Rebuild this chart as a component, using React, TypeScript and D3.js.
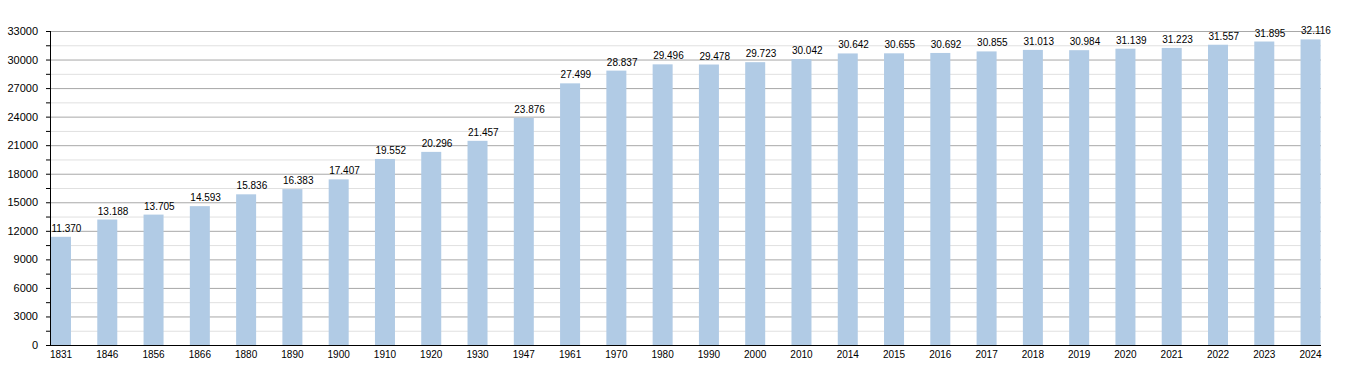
import React from "react";
import * as d3 from "d3";

const years = ["1831","1846","1856","1866","1880","1890","1900","1910","1920","1930","1947","1961","1970","1980","1990","2000","2010","2014","2015","2016","2017","2018","2019","2020","2021","2022","2023","2024"];
const population = [11370,13188,13705,14593,15836,16383,17407,19552,20296,21457,23876,27499,28837,29496,29478,29723,30042,30642,30655,30692,30855,31013,30984,31139,31223,31557,31895,32116];
const yMajorTicks = [0,3000,6000,9000,12000,15000,18000,21000,24000,27000,30000,33000];
const yMinorTicks = [1500,4500,7500,10500,13500,16500,19500,22500,25500,28500,31500];

const W = 1350, H = 375;
const left = 50, right = 1321, top = 31, bottom = 345;
const step = 46.28;
const barW = 20;

const fmt = (v: number) => {
  const s = String(v);
  return s.length > 3 ? s.slice(0, s.length - 3) + "." + s.slice(-3) : s;
};

export default function App() {
  const y = d3.scaleLinear().domain([0, 33000]).range([bottom, top]);
  const x = d3.scaleBand<string>().domain(years).range([51, 51 + step * years.length]).paddingInner(0).paddingOuter(0);
  const font = "'Liberation Sans', Arial, sans-serif";
  return (
    <svg width={W} height={H} style={{ position: "absolute", left: 0, top: 0, background: "#fff" }} fontFamily={font}>
      {yMinorTicks.map((t) => (
        <g key={"m" + t}>
          <line x1={left} x2={right} y1={y(t) + 0.5} y2={y(t) + 0.5} stroke="#e0e0e0" strokeWidth={1} />
          <line x1={left - 4} x2={left} y1={y(t) + 0.5} y2={y(t) + 0.5} stroke="#000" strokeWidth={1} />
        </g>
      ))}
      {yMajorTicks.map((t) => (
        <g key={"M" + t}>
          {t > 0 && <line x1={left} x2={right} y1={y(t) + 0.5} y2={y(t) + 0.5} stroke="#a8a8a8" strokeWidth={1} />}
          <line x1={left - 4} x2={left} y1={y(t) + 0.5} y2={y(t) + 0.5} stroke="#000" strokeWidth={1} />
          <text x={38} y={y(t) + 4} textAnchor="end" fontSize={11} fill="#000">{t}</text>
        </g>
      ))}
      {population.map((v, i) => {
        const xs = x(years[i])!;
        return (
          <g key={years[i]}>
            <rect x={xs} y={y(v)} width={barW} height={bottom - y(v)} fill="#b1cbe5" />
            <text x={xs + 0.5} y={y(v) - 5} textAnchor="start" fontSize={10} fill="#000">{fmt(v)}</text>
            <text x={xs + barW / 2} y={358} textAnchor="middle" fontSize={10} fill="#000">{years[i]}</text>
          </g>
        );
      })}
      <line x1={left + 0.5} x2={left + 0.5} y1={top} y2={bottom + 1} stroke="#000" strokeWidth={1} />
      <line x1={left} x2={right} y1={bottom + 0.5} y2={bottom + 0.5} stroke="#000" strokeWidth={1} />
    </svg>
  );
}
